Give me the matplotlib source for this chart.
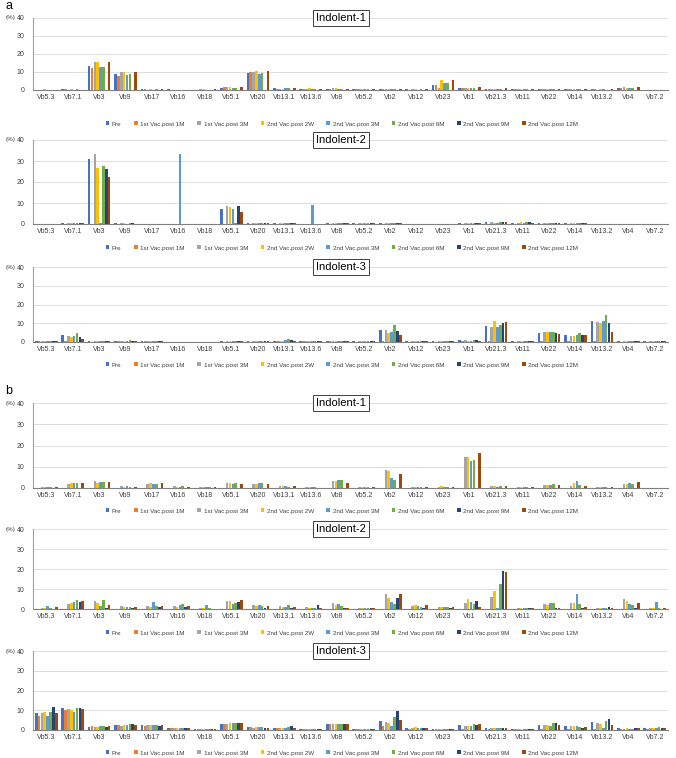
import matplotlib
matplotlib.use("Agg")
import matplotlib.pyplot as plt
import numpy as np

plt.rcParams['font.family'] = ['Liberation Sans', 'DejaVu Sans']

categories = ["Vb5.3", "Vb7.1", "Vb3", "Vb9", "Vb17", "Vb16", "Vb18", "Vb5.1", "Vb20",
              "Vb13.1", "Vb13.6", "Vb8", "Vb5.2", "Vb2", "Vb12", "Vb23", "Vb1", "Vb21.3",
              "Vb11", "Vb22", "Vb14", "Vb13.2", "Vb4", "Vb7.2"]
series = ["Pre", "1st Vac.post 1M", "1st Vac.post 3M", "2nd Vac.post 2W",
          "2nd Vac.post 3M", "2nd Vac.post 6M", "2nd Vac.post 9M", "2nd Vac.post 12M"]
colors = ["#4472C4", "#ED7D31", "#A5A5A5", "#FFC000", "#5B9BD5", "#70AD47", "#264478", "#9E480E"]
yticks = [0, 10, 20, 30, 40]

# rows = categories, columns = series
a_indolent1 = [
    [0.2, 0.1, 0.2, 0.4, 0.2, 0.2, 0, 0.2],
    [0.3, 0.3, 0.2, 0.3, 0.2, 0.3, 0, 0.2],
    [13.2, 12.0, 15.6, 15.6, 13.0, 13.0, 0, 15.6],
    [9.0, 8.0, 10.2, 10.2, 8.5, 9.0, 0, 9.8],
    [0.3, 0.3, 0.2, 0.3, 0.2, 0.3, 0, 0.3],
    [0.4, 0.2, 0.1, 0.2, 0.1, 0.2, 0, 0.2],
    [0.2, 0.2, 0.3, 0.3, 0.2, 0.2, 0, 0.5],
    [1.2, 1.8, 1.8, 1.7, 1.3, 1.3, 0, 1.8],
    [9.5, 9.8, 10.2, 10.8, 9.0, 9.5, 0, 10.3],
    [1.3, 0.8, 0.8, 0.8, 0.9, 1.2, 0, 1.2],
    [0.8, 0.8, 0.8, 1.2, 0.8, 0.8, 0, 0.8],
    [0.8, 0.8, 1.1, 0.9, 0.8, 0.8, 0, 0.7],
    [0.3, 0.3, 0.3, 0.4, 0.3, 0.3, 0, 0.3],
    [0.4, 0.4, 0.4, 0.5, 0.4, 0.4, 0, 0.5],
    [0.3, 0.2, 0.3, 0.3, 0.2, 0.3, 0, 0.3],
    [3.0, 3.0, 1.2, 5.5, 4.0, 3.7, 0, 5.5],
    [1.2, 1.2, 1.2, 1.3, 1.2, 1.0, 0, 1.6],
    [0.6, 0.6, 0.5, 0.6, 0.5, 0.6, 0, 1.0],
    [0.4, 0.4, 0.3, 0.4, 0.3, 0.3, 0, 0.4],
    [0.4, 0.3, 0.4, 0.4, 0.3, 0.4, 0, 0.5],
    [0.4, 0.3, 0.3, 0.4, 0.4, 0.3, 0, 0.5],
    [0.3, 0.3, 0.2, 0.3, 0.3, 0.2, 0, 0.3],
    [1.0, 1.2, 1.5, 1.3, 1.2, 1.0, 0, 1.6],
    [0.1, 0.1, 0.1, 0.1, 0.1, 0.1, 0, 0.1],
]

a_indolent2 = [
    [0.2, 0, 0.2, 0.2, 0.2, 0.2, 0.2, 0.2],
    [0.5, 0, 0.3, 0.3, 0.3, 0.5, 0.5, 0.3],
    [31.0, 0, 33.5, 26.5, 0.5, 27.5, 26.0, 22.5],
    [0.3, 0, 0.3, 0.3, 0.2, 0.3, 0.3, 0.2],
    [0.2, 0, 0.2, 0.2, 0.2, 0.2, 0.2, 0.2],
    [0, 0, 0, 0, 33.5, 0, 0, 0],
    [0.2, 0, 0.2, 0.2, 0.2, 0.2, 0.2, 0.2],
    [7.2, 0, 8.8, 8.0, 7.0, 0.5, 8.8, 5.5],
    [0.3, 0, 0.3, 0.3, 0.3, 0.3, 0.3, 0.3],
    [0.3, 0, 0.3, 0.3, 0.3, 0.3, 0.3, 0.3],
    [0, 0, 0, 0, 9.0, 0, 0, 0],
    [0.3, 0, 0.3, 0.3, 0.3, 0.3, 0.3, 0.3],
    [0.3, 0, 0.3, 0.3, 0.3, 0.3, 0.3, 0.3],
    [0.5, 0, 0.5, 0.3, 0.3, 0.5, 0.3, 0.3],
    [0.2, 0, 0.2, 0.2, 0.2, 0.2, 0.2, 0.2],
    [0.2, 0, 0.2, 0.2, 0.2, 0.2, 0.2, 0.2],
    [0.3, 0, 0.5, 0.5, 0.5, 0.3, 0.3, 0.3],
    [0.8, 0, 0.8, 0.5, 0.5, 0.8, 0.8, 0.8],
    [0.5, 0, 0.5, 0.8, 0.5, 1.0, 0.8, 0.5],
    [0.3, 0, 0.3, 0.3, 0.3, 0.3, 0.3, 0.3],
    [0.5, 0, 0.5, 0.5, 0.3, 0.5, 0.5, 0.5],
    [0.2, 0, 0.2, 0.2, 0.2, 0.2, 0.2, 0.2],
    [0.2, 0, 0.2, 0.2, 0.2, 0.2, 0.2, 0.2],
    [0.2, 0, 0.2, 0.2, 0.2, 0.2, 0.2, 0.2],
]

a_indolent3 = [
    [0.5, 0.3, 0.3, 0.3, 0.5, 0.5, 0.8, 0.3],
    [3.7, 0.5, 3.0, 2.8, 3.0, 4.8, 2.8, 1.5],
    [0.3, 0.2, 0.3, 0.3, 0.3, 0.3, 0.3, 0.3],
    [0.8, 0.3, 0.5, 0.8, 0.8, 1.0, 0.5, 0.5],
    [0.5, 0.3, 0.3, 0.3, 0.5, 0.8, 0.5, 0.5],
    [0.2, 0.1, 0.2, 0.2, 0.2, 0.2, 0.2, 0.2],
    [0.2, 0.1, 0.2, 0.2, 0.2, 0.2, 0.2, 0.2],
    [0.3, 0.2, 0.3, 0.3, 0.3, 0.3, 0.3, 0.3],
    [0.5, 0.2, 0.5, 0.5, 0.5, 0.5, 0.5, 0.5],
    [0.8, 0.3, 0.8, 0.8, 1.0, 1.5, 1.2, 0.8],
    [0.8, 0.3, 0.5, 0.5, 0.5, 0.8, 0.5, 0.5],
    [0.6, 0.3, 0.5, 0.5, 0.5, 0.8, 0.8, 0.3],
    [0.3, 0.2, 0.3, 0.3, 0.3, 0.3, 0.3, 0.3],
    [6.5, 0.5, 6.5, 5.0, 5.5, 9.0, 6.0, 3.5],
    [0.3, 0.2, 0.3, 0.3, 0.3, 0.3, 0.3, 0.3],
    [0.3, 0.2, 0.3, 0.3, 0.3, 0.3, 0.3, 0.3],
    [1.0, 0.3, 1.0, 0.8, 0.8, 1.2, 1.0, 0.8],
    [8.5, 0.5, 8.0, 11.3, 8.0, 9.0, 10.0, 10.8],
    [0.5, 0.2, 0.5, 0.5, 0.5, 0.5, 0.5, 0.5],
    [5.0, 0.5, 5.5, 5.5, 5.5, 5.5, 5.0, 4.5],
    [3.5, 0.3, 3.0, 3.0, 3.5, 5.0, 4.0, 3.5],
    [11.0, 0.5, 10.5, 10.0, 11.0, 14.3, 10.2, 5.5],
    [0.3, 0.2, 0.3, 0.3, 0.3, 0.3, 0.3, 0.3],
    [0.3, 0.2, 0.3, 0.3, 0.3, 0.3, 0.3, 0.3],
]

b_indolent1 = [
    [0, 0, 0.4, 0.4, 0.3, 0.4, 0, 0.5],
    [0, 0, 2.0, 2.2, 2.3, 2.3, 0, 2.3],
    [0, 0, 3.2, 2.5, 2.8, 2.8, 0, 2.8],
    [0, 0, 1.0, 0.7, 1.0, 0.5, 0, 0.5],
    [0, 0, 1.8, 2.2, 2.0, 2.0, 0, 2.2],
    [0, 0, 0.8, 0.6, 0.7, 0.9, 0, 0.6],
    [0, 0, 0.3, 0.3, 0.3, 0.3, 0, 0.3],
    [0, 0, 2.2, 2.2, 1.8, 2.2, 0, 1.8],
    [0, 0, 1.8, 1.8, 2.2, 2.2, 0, 1.8],
    [0, 0, 0.9, 0.9, 0.8, 0.7, 0, 0.8],
    [0, 0, 0.4, 0.4, 0.4, 0.4, 0, 0.1],
    [0, 0, 3.2, 3.5, 3.9, 3.7, 0, 2.5],
    [0, 0, 0.3, 0.3, 0.3, 0.3, 0, 0.4],
    [0, 0, 8.6, 8.1, 4.8, 3.9, 0, 6.6],
    [0, 0, 0.5, 0.5, 0.5, 0.4, 0, 0.3],
    [0, 0, 0.5, 0.8, 0.5, 0.5, 0, 0.5],
    [0, 0, 14.8, 14.8, 12.8, 13.3, 0, 16.4],
    [0, 0, 0.8, 0.8, 0.6, 0.8, 0, 0.8],
    [0, 0, 0.3, 0.3, 0.3, 0.3, 0, 0.3],
    [0, 0, 1.6, 1.3, 1.4, 1.7, 0, 1.6],
    [0, 0, 1.0, 2.3, 3.2, 1.5, 0, 1.0],
    [0, 0, 0.4, 0.4, 0.4, 0.4, 0, 0.6],
    [0, 0, 1.8, 1.8, 2.3, 1.8, 0, 2.7],
    [0, 0, 0.2, 0.1, 0.1, 0.1, 0, 0.1],
]

b_indolent2 = [
    [0, 0, 0.5, 0.3, 1.5, 0.3, 0.2, 1.0],
    [0, 0, 2.5, 3.0, 3.5, 4.7, 3.5, 3.8],
    [0, 0, 4.0, 3.0, 1.5, 4.3, 0.5, 2.0],
    [0, 0, 1.3, 1.0, 1.0, 0.8, 0.5, 0.8],
    [0, 0, 1.5, 1.0, 3.5, 1.5, 0.8, 1.5],
    [0, 0, 1.5, 1.2, 2.0, 2.5, 0.8, 1.5],
    [0, 0, 0.3, 0.3, 2.0, 0.3, 0.2, 0.2],
    [0, 0, 4.0, 3.8, 2.5, 3.2, 3.3, 4.3],
    [0, 0, 2.0, 1.5, 1.8, 1.5, 0.5, 1.5],
    [0, 0, 1.5, 1.0, 1.2, 2.0, 0.5, 1.0],
    [0, 0, 0.8, 0.5, 0.5, 0.5, 2.0, 0.5],
    [0, 0, 2.8, 2.0, 2.5, 1.5, 0.5, 0.5],
    [0, 0, 0.5, 0.5, 0.5, 0.5, 0.3, 0.5],
    [0, 0, 7.3, 5.5, 3.5, 2.5, 5.5, 7.3],
    [0, 0, 1.5, 2.0, 1.5, 1.2, 0.5, 2.0],
    [0, 0, 1.0, 1.0, 0.8, 0.8, 0.5, 0.8],
    [0, 0, 3.2, 4.8, 3.3, 2.5, 3.8, 0.8],
    [0, 0, 6.2, 9.0, 0.5, 12.5, 19.0, 18.5],
    [0, 0, 0.5, 0.5, 0.5, 0.5, 0.3, 0.5],
    [0, 0, 2.5, 2.0, 2.8, 2.8, 0.3, 0.5],
    [0, 0, 3.0, 3.0, 7.5, 2.7, 0.5, 1.0],
    [0, 0, 0.5, 0.5, 0.5, 0.5, 1.0, 0.5],
    [0, 0, 5.0, 4.0, 2.5, 2.0, 0.5, 2.8],
    [0, 0, 0.3, 0.3, 3.5, 0.3, 0, 0.3],
]

b_indolent3 = [
    [8.7, 7.0, 8.5, 9.2, 7.0, 9.0, 11.8, 8.5],
    [11.2, 10.0, 10.5, 10.0, 9.0, 11.2, 11.2, 10.8],
    [1.5, 1.8, 1.5, 1.5, 2.0, 2.0, 1.5, 1.8],
    [2.3, 2.5, 2.0, 2.5, 2.5, 2.8, 2.8, 2.5],
    [2.3, 2.0, 2.5, 2.5, 2.5, 2.5, 2.2, 2.5],
    [0.8, 0.8, 0.8, 0.8, 0.8, 1.0, 1.0, 0.8],
    [0.5, 0.5, 0.5, 0.5, 0.5, 0.5, 0.5, 0.5],
    [2.8, 3.0, 3.2, 3.5, 3.5, 3.5, 3.5, 3.5],
    [1.5, 1.5, 1.2, 1.5, 1.5, 1.5, 1.2, 1.2],
    [1.0, 1.0, 1.0, 1.0, 1.2, 1.5, 1.8, 1.2],
    [0.5, 0.5, 0.5, 0.5, 0.5, 0.5, 0.5, 0.5],
    [2.8, 2.8, 3.0, 2.8, 2.8, 2.8, 2.8, 2.8],
    [0.5, 0.4, 0.5, 0.5, 0.5, 0.5, 0.5, 0.5],
    [4.5, 2.0, 4.0, 3.5, 1.8, 6.8, 9.7, 5.0],
    [1.2, 0.5, 0.8, 1.5, 1.0, 1.0, 1.0, 1.0],
    [0.5, 0.3, 0.5, 0.5, 0.5, 0.5, 0.5, 0.5],
    [2.3, 0.5, 2.2, 2.2, 2.2, 3.0, 2.5, 3.0],
    [1.0, 0.3, 1.0, 1.0, 1.0, 1.0, 0.8, 1.0],
    [0.5, 0.3, 0.5, 0.5, 0.5, 0.5, 0.5, 0.5],
    [2.5, 0.3, 2.5, 2.5, 2.0, 3.5, 3.5, 2.5],
    [2.0, 0.3, 2.0, 2.0, 2.0, 1.3, 0.8, 1.7],
    [3.9, 0.5, 3.6, 3.0, 1.2, 4.5, 5.8, 2.5],
    [1.0, 0.3, 0.5, 0.8, 0.6, 0.6, 1.0, 1.0],
    [1.2, 0.3, 0.8, 1.2, 1.2, 1.3, 0.8, 0.8],
]

panels = [("Indolent-1", a_indolent1), ("Indolent-2", a_indolent2), ("Indolent-3", a_indolent3),
          ("Indolent-1", b_indolent1), ("Indolent-2", b_indolent2), ("Indolent-3", b_indolent3)]

W, H = 676, 758
fig = plt.figure(figsize=(W / 100, H / 100), dpi=100)

# (top px, bottom px, legend y px)
layout = [(18, 90, 124), (140, 224, 248), (267, 342, 365),
          (403, 488, 511), (529, 609, 633), (651, 730, 753)]
left_px, right_px = 33, 668

x = np.arange(len(categories))
bw = 0.108
offsets = (np.arange(len(series)) - (len(series) - 1) / 2) * bw

for (title, data), (top, bot, legy) in zip(panels, layout):
    ax = fig.add_axes([left_px / W, 1 - bot / H, (right_px - left_px) / W, (bot - top) / H])
    vals = np.array(data, dtype=float)
    handles = []
    for i, s in enumerate(series):
        h = ax.bar(x + offsets[i], vals[:, i], width=bw * 0.92, color=colors[i], label=s,
                   zorder=3, linewidth=0)
        handles.append(h)
    ax.set_xlim(-0.5, len(categories) - 0.5)
    ax.set_ylim(0, 40)
    ax.set_yticks(yticks)
    ax.set_xticks(x)
    ax.set_xticklabels(categories)
    ax.tick_params(axis='both', labelsize=5, length=0, pad=3, colors='#404040')
    ax.tick_params(axis='y', pad=6)
    ax.grid(axis='y', color='#D9D9D9', linewidth=0.6, zorder=0)
    for sp in ['top', 'right']:
        ax.spines[sp].set_visible(False)
    ax.spines['left'].set_color('#A0A0A0')
    ax.spines['left'].set_linewidth(0.8)
    ax.spines['bottom'].set_color('#808080')
    ax.spines['bottom'].set_linewidth(0.8)
    ax.text(0.485, 1.0, title, transform=ax.transAxes, ha='center', va='center',
            fontsize=8, zorder=5,
            bbox=dict(boxstyle='square,pad=0.3', facecolor='white', edgecolor='#404040',
                      linewidth=0.7))
    fig.text(6 / W, 1 - top / H, "(%)", fontsize=4.5, ha='left', va='center', color='#404040')
    fig.legend(handles=handles, labels=series, loc='center', ncol=8,
               bbox_to_anchor=(342 / W, 1 - legy / H), fontsize=4.5, frameon=False,
               handlelength=0.6, handleheight=0.6, handletextpad=0.4, columnspacing=2.0,
               labelcolor='#404040')

fig.text(5 / W, 1 - 6 / H, "a", fontsize=9, ha='left', va='center')
fig.text(5 / W, 1 - 391 / H, "b", fontsize=9, ha='left', va='center')

fig.savefig("out.png", dpi=100)
